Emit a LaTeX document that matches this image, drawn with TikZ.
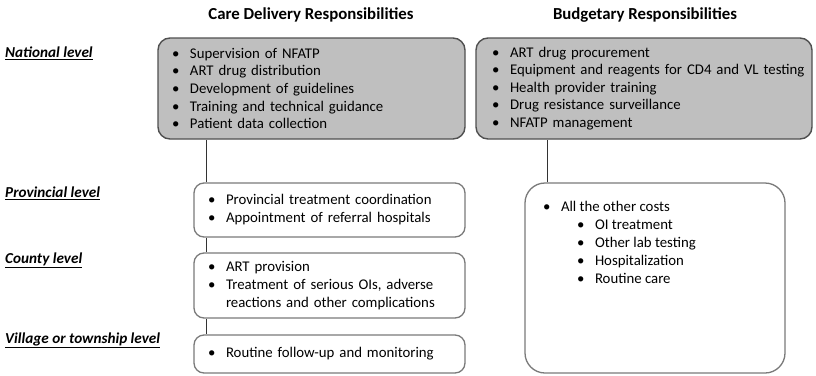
\documentclass[tikz,border=0pt]{standalone}
\usepackage{fontspec}
\setmainfont{Carlito}
\usetikzlibrary{positioning,backgrounds}
\definecolor{boxgray}{HTML}{BFBFBF}
\definecolor{edgedark}{HTML}{505050}
\definecolor{edgelight}{HTML}{7A7A7A}
\definecolor{linkcol}{HTML}{333333}
\newcommand{\bul}{\makebox[18pt][l]{\textbullet}}
\newcommand{\cont}{\hspace*{18pt}}
\newcommand{\subind}{\hspace*{34pt}}

\begin{document}
\begin{tikzpicture}[
    x=1pt, y=-1pt,
    natbox/.style={rectangle, rounded corners=12pt, draw=edgedark, fill=boxgray, line width=1.4pt, align=left, inner xsep=14pt, inner ysep=0pt, font=\fontsize{14.8}{17.6}\selectfont},
    lowbox/.style={rectangle, rounded corners=10pt, draw=edgelight, fill=white, line width=1.3pt, align=left, inner xsep=14pt, inner ysep=0pt, font=\fontsize{14.8}{18}\selectfont},
    level/.style={anchor=west, inner sep=0pt, font=\fontsize{15.2}{17}\selectfont\bfseries\itshape},
    head/.style={inner sep=0pt, font=\fontsize{16.8}{19}\selectfont\bfseries},
    link/.style={line width=1.6pt, draw=linkcol}
]
\useasboundingbox (0,0) rectangle (816,375);

% Headers
\node (hcare) [head] at (311,15) {Care Delivery Responsibilities};
\node (hbudget) [head] at (645,15) {Budgetary Responsibilities};

% Levels
\node (lnat) [level] at (5,53) {\underline{National level}};
\node (lprov) [level] at (5,193) {\underline{Provincial level}};
\node (lcnty) [level] at (5,260) {\underline{County level}};
\node (lvill) [level] at (5,340) {\underline{Village or township level}};

% Boxes
\node (natL) [natbox, minimum width=307, minimum height=101, text width=279] at (311.5,88.5) {\bul Supervision of NFATP\\ \bul ART drug distribution\\ \bul Development of guidelines\\ \bul Training and technical guidance\\ \bul Patient data collection};
\node (natR) [natbox, minimum width=336, minimum height=101, text width=304, inner xsep=16pt] at (644,88.5) {\bul ART drug procurement\\ \mbox{\bul Equipment and reagents for CD4 and VL testing}\\ \bul Health provider training\\ \bul Drug resistance surveillance\\ \bul NFATP management};
\node (prov) [lowbox, minimum width=271, minimum height=54, text width=243] at (329.5,210) {\bul Provincial treatment coordination\\ \bul Appointment of referral hospitals};
\node (cnty) [lowbox, minimum width=271, minimum height=65, text width=243] at (329.5,285.5) {\bul ART provision\\ \bul Treatment of serious OIs, adverse\\ \cont reactions and other complications};
\node (vill) [lowbox, minimum width=271, minimum height=38, text width=243] at (329.5,354) {\bul Routine follow-up and monitoring};
\node (rest) [lowbox, rounded corners=20pt, minimum width=260, minimum height=190, inner xsep=18pt] at (655,278) {\parbox[c][154pt][t]{224pt}{\bul All the other costs\\ \subind\bul OI treatment\\ \subind\bul Other lab testing\\ \subind\bul Hospitalization\\ \subind\bul Routine care}};

% Links
\begin{scope}[on background layer]
\draw [link] ([xshift=13pt]prov.north west) -- ([xshift=13pt]prov.north west |- natL.south);
\draw [link] ([xshift=13pt]prov.south west) -- ([xshift=13pt]cnty.north west);
\draw [link] ([xshift=13pt]cnty.south west) -- ([xshift=13pt]vill.north west);
\draw [link] ([xshift=23pt]rest.north west) -- ([xshift=23pt]rest.north west |- natR.south);
\end{scope}

\end{tikzpicture}
\end{document}
